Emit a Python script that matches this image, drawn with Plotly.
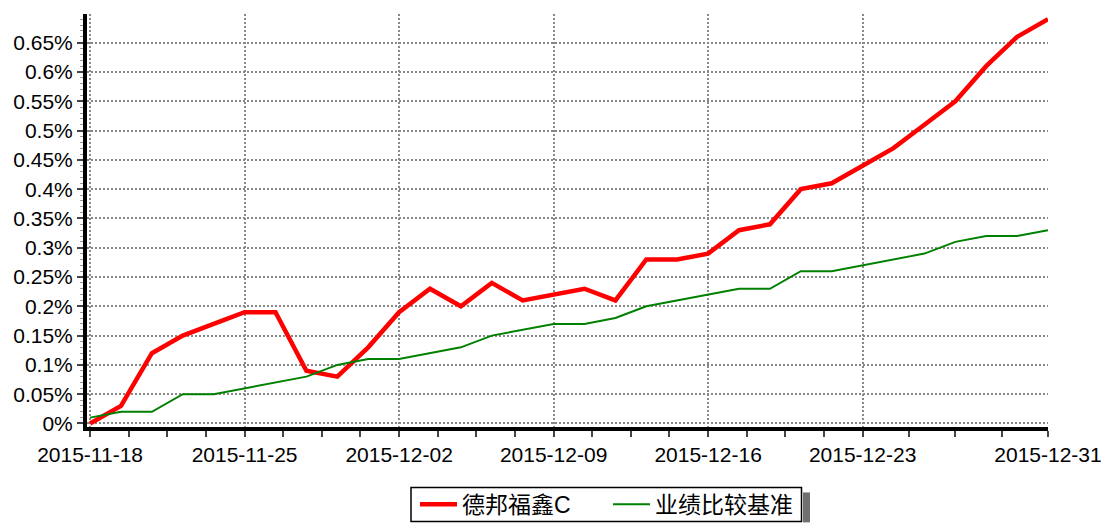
import plotly.graph_objects as go

dates = ["2015-11-18", "2015-11-19", "2015-11-20", "2015-11-23", "2015-11-24", "2015-11-25",
         "2015-11-26", "2015-11-27", "2015-11-30", "2015-12-01", "2015-12-02", "2015-12-03",
         "2015-12-04", "2015-12-07", "2015-12-08", "2015-12-09", "2015-12-10", "2015-12-11",
         "2015-12-14", "2015-12-15", "2015-12-16", "2015-12-17", "2015-12-18", "2015-12-21",
         "2015-12-22", "2015-12-23", "2015-12-24", "2015-12-25", "2015-12-28", "2015-12-29",
         "2015-12-30", "2015-12-31"]

fund = [0.00, 0.03, 0.12, 0.15, 0.17, 0.19, 0.19, 0.09, 0.08, 0.13, 0.19, 0.23,
        0.20, 0.24, 0.21, 0.22, 0.23, 0.21, 0.28, 0.28, 0.29, 0.33, 0.34, 0.40,
        0.41, 0.44, 0.47, 0.51, 0.55, 0.61, 0.66, 0.69]

bench = [0.01, 0.02, 0.02, 0.05, 0.05, 0.06, 0.07, 0.08, 0.10, 0.11, 0.11, 0.12,
         0.13, 0.15, 0.16, 0.17, 0.17, 0.18, 0.20, 0.21, 0.22, 0.23, 0.23, 0.26,
         0.26, 0.27, 0.28, 0.29, 0.31, 0.32, 0.32, 0.33]

tick_labels = ["2015-11-18", "2015-11-25", "2015-12-02", "2015-12-09",
               "2015-12-16", "2015-12-23", "2015-12-31"]

fund_name = "德邦福鑫C"
bench_name = "业绩比较基准"

idx = list(range(len(dates)))
major = [dates.index(d) for d in tick_labels]
minor = []
for a, b in zip(major[:-1], major[1:]):
    for k in range(1, 4):
        minor.append(a + (b - a) * k / 4)

FONT = "Liberation Sans, Arial, Noto Sans CJK SC, sans-serif"

fig = go.Figure()
fig.add_trace(go.Scatter(x=idx, y=fund, mode="lines", name=fund_name,
                         customdata=dates, hovertemplate="%{customdata}<br>%{y}%",
                         line=dict(color="#ff0000", width=4.5)))
fig.add_trace(go.Scatter(x=idx, y=bench, mode="lines", name=bench_name,
                         customdata=dates, hovertemplate="%{customdata}<br>%{y}%",
                         line=dict(color="#008000", width=2)))

W, H = 1101, 523
L, T = 87, 14
R = W - 1048
B = H - 427.5
pw, ph = W - L - R, H - T - B

def px(x):
    return (x - L) / pw

def py(y):
    return (H - B - y) / ph

fig.update_layout(
    width=W, height=H,
    margin=dict(l=L, r=R, t=T, b=B, pad=0, autoexpand=False),
    paper_bgcolor="white", plot_bgcolor="white",
    font=dict(family=FONT, size=21, color="black"),
    showlegend=True,
    legend=dict(orientation="h", x=px(415), xanchor="left", y=py(505), yanchor="middle",
                bgcolor="rgba(0,0,0,0)", borderwidth=0,
                font=dict(size=23, family=FONT), entrywidth=141, entrywidthmode="pixels",
                tracegroupgap=0, itemwidth=37),
    xaxis=dict(range=[-0.1, 31], tickmode="array", tickvals=major, ticktext=tick_labels,
               automargin=False, ticklabeloverflow="allow",
               showgrid=True, gridcolor="#888888", griddash="2px,2px", gridwidth=1.5,
               showline=True, linecolor="black", linewidth=4, zeroline=False,
               ticks="outside", ticklen=6, tickcolor="#444444", tickwidth=1.5,
               ticklabelstandoff=0,
               minor=dict(tickmode="array", tickvals=minor, ticks="outside", ticklen=6,
                          tickcolor="#444444", tickwidth=1.5, showgrid=False)),
    yaxis=dict(range=[-0.006, 0.699], tickmode="linear", tick0=0, dtick=0.05, ticksuffix="%",
               automargin=False,
               showgrid=True, gridcolor="#888888", griddash="2px,2px", gridwidth=1.5,
               showline=True, linecolor="black", linewidth=4, zeroline=False,
               ticks="outside", ticklen=6, tickcolor="#444444", tickwidth=1.5,
               minor=dict(dtick=0.01, ticks="outside", ticklen=3, tickcolor="#999999",
                          tickwidth=1, showgrid=False)),
    shapes=[
        dict(type="rect", xref="paper", yref="paper", x0=px(803), x1=px(810),
             y0=py(493), y1=py(523), fillcolor="#707070", line=dict(width=0),
             layer="above"),
        dict(type="rect", xref="paper", yref="paper", x0=px(411), x1=px(801.5),
             y0=py(488), y1=py(522), fillcolor="white", line=dict(width=1.5, color="black"),
             layer="above"),
    ],
)

fig.write_html("out.html", config={"displayModeBar": False},
               post_script="document.body.style.margin='0';document.body.style.overflow='hidden';")
